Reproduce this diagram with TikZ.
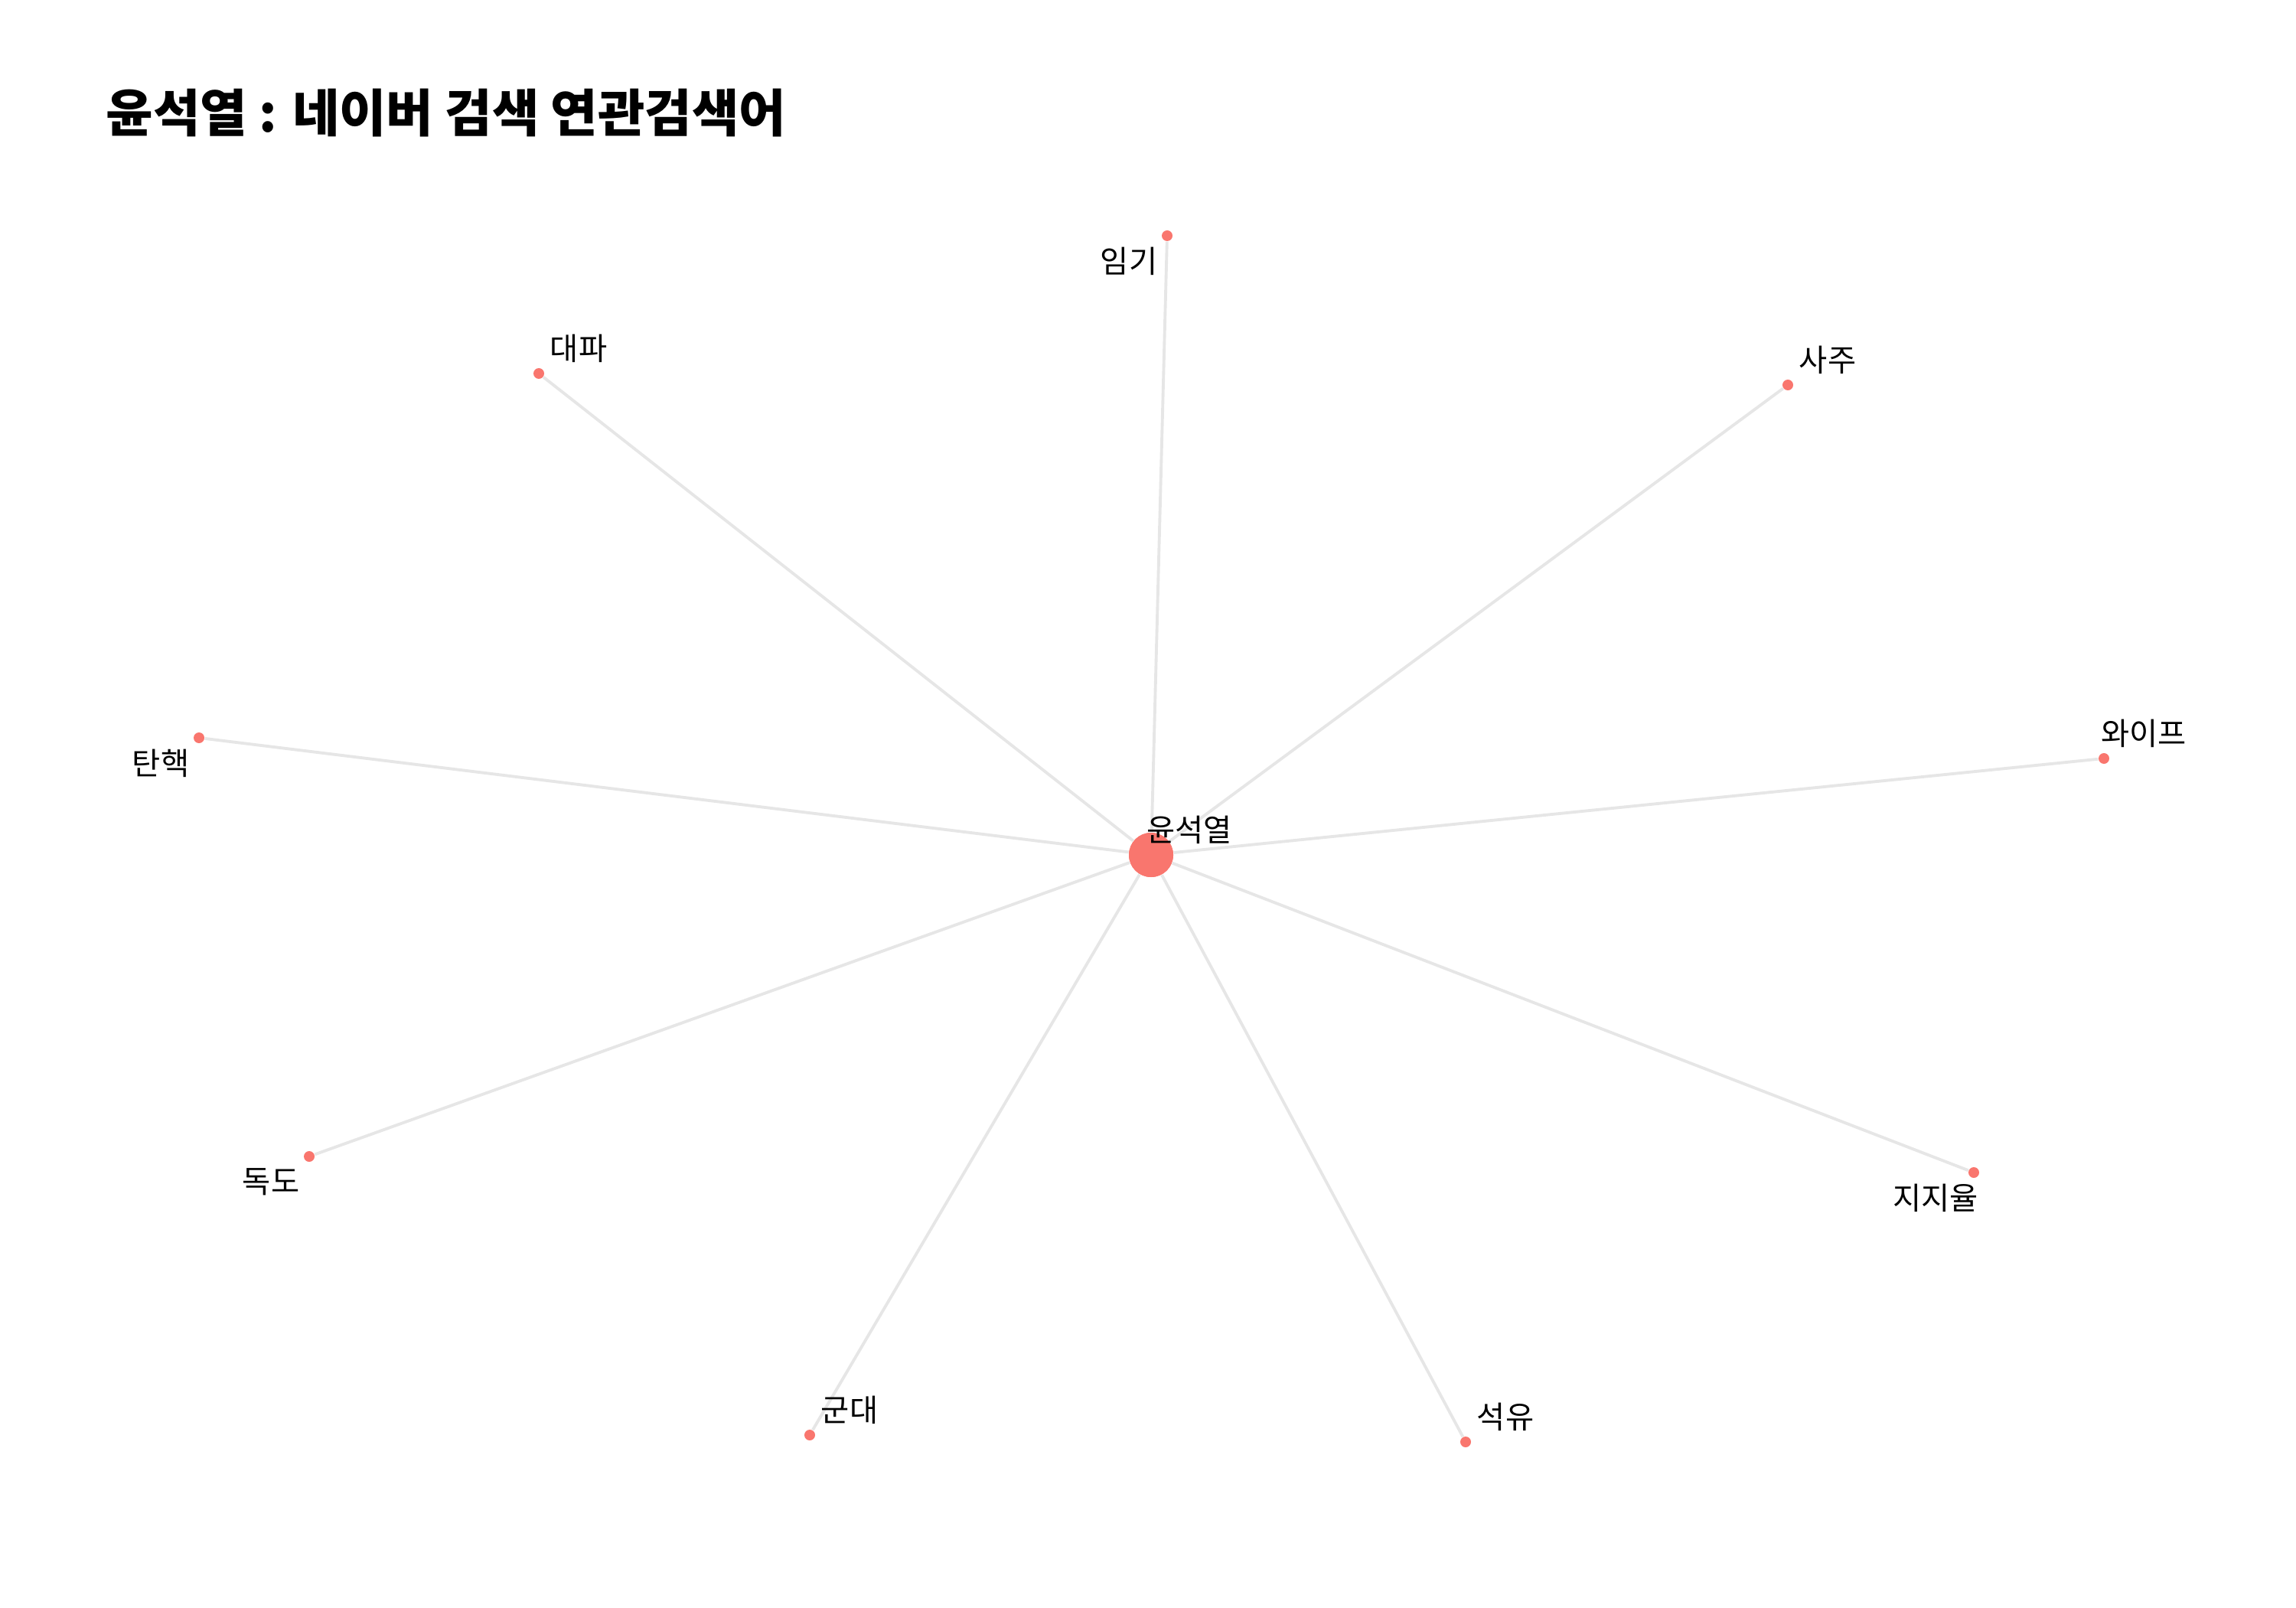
\documentclass[tikz,border=0pt]{standalone}
\usepackage{fontspec}
\setmainfont{Noto Sans CJK KR}
\definecolor{nodered}{HTML}{F9766E}
\definecolor{edgegray}{HTML}{E6E6E6}
\tikzset{
    hub/.style={circle, fill=nodered, inner sep=0pt, minimum size=5.8mm},
    leaf/.style={circle, fill=nodered, inner sep=0pt, minimum size=1.4mm},
    tag/.style={inner sep=0pt, anchor=center, font=\fontsize{11.5}{14}\selectfont},
    link/.style={draw=edgegray, line width=1.1pt}
}
\begin{document}
\begin{tikzpicture}
    \useasboundingbox (0, 0) rectangle (30, 21);
    % title
    \node[anchor=north west, inner sep=0pt, font=\bfseries\fontsize{19}{23}\selectfont]
        (title) at (1.38, 19.85) {윤석열 : 네이버 검색 연관검색어};

    % center and leaves
    \node[hub] (yoon) at (15.04, 9.83) {};
    \node[leaf] (imgi) at (15.25, 17.92) {};
    \node[leaf] (daepa) at (7.04, 16.12) {};
    \node[leaf] (saju) at (23.36, 15.97) {};
    \node[leaf] (tanhaek) at (2.60, 11.36) {};
    \node[leaf] (wife) at (27.49, 11.09) {};
    \node[leaf] (dokdo) at (4.04, 5.89) {};
    \node[leaf] (jiji) at (25.79, 5.68) {};
    \node[leaf] (gundae) at (10.58, 2.25) {};
    \node[leaf] (seogyu) at (19.15, 2.16) {};

    % edges
    \foreach \n in {imgi, daepa, saju, tanhaek, wife, dokdo, jiji, gundae, seogyu}
        \draw[link] (yoon) -- (\n);
    \node[hub] at (yoon) {};

    % labels, above right or below left of each dot
    \node[tag] (yoonlbl) at ([xshift=5.0mm, yshift=3.3mm]yoon.center) {윤석열};
    \node[tag] (imgilbl) at ([xshift=-5.0mm, yshift=-3.3mm]imgi.center) {임기};
    \node[tag] (daepalbl) at ([xshift=5.2mm, yshift=3.3mm]daepa.center) {대파};
    \node[tag] (sajulbl) at ([xshift=5.2mm, yshift=3.3mm]saju.center) {사주};
    \node[tag] (tanhaeklbl) at ([xshift=-5.0mm, yshift=-3.3mm]tanhaek.center) {탄핵};
    \node[tag] (wifelbl) at ([xshift=5.2mm, yshift=3.3mm]wife.center) {와이프};
    \node[tag] (dokdolbl) at ([xshift=-5.0mm, yshift=-3.3mm]dokdo.center) {독도};
    \node[tag] (jijilbl) at ([xshift=-5.0mm, yshift=-3.3mm]jiji.center) {지지율};
    \node[tag] (gundaelbl) at ([xshift=5.2mm, yshift=3.3mm]gundae.center) {군대};
    \node[tag] (seogyulbl) at ([xshift=5.2mm, yshift=3.3mm]seogyu.center) {석유};
\end{tikzpicture}
\end{document}
